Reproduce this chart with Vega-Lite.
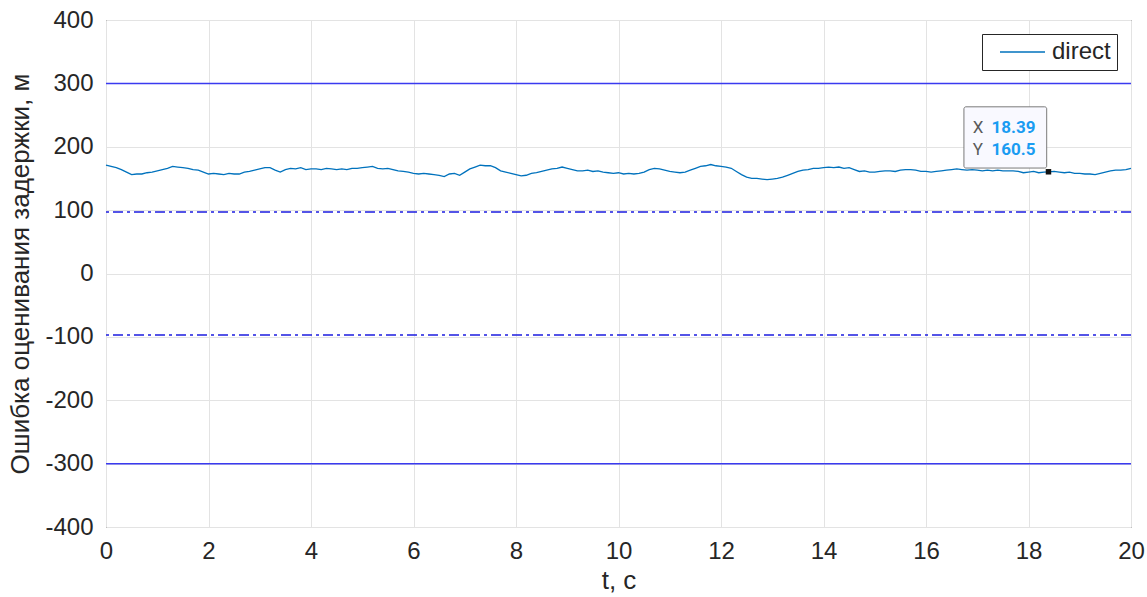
{
  "$schema": "https://vega.github.io/schema/vega-lite/v6.json",
  "width": 1025,
  "height": 507,
  "autosize": {"type": "none"},
  "padding": {"left": 106, "top": 20, "right": 16, "bottom": 70},
  "background": "white",
  "config": {
    "view": {"stroke": "#262626", "strokeWidth": 1},
    "axis": {
      "labelFont": "Liberation Sans",
      "titleFont": "Liberation Sans",
      "labelFontSize": 24,
      "titleFontSize": 26,
      "labelColor": "#262626",
      "titleColor": "#262626",
      "titleFontWeight": "normal",
      "gridColor": "#e3e3e3",
      "gridWidth": 1,
      "domain": false,
      "ticks": false,
      "labelFlush": false,
      "labelExpr": "'' + datum.value"
    }
  },
  "datasets": {
    "signal": [
      {"t":0.0,"v":171},{"t":0.1,"v":169},{"t":0.2,"v":167},{"t":0.3,"v":164},{"t":0.4,"v":160},{"t":0.5,"v":156},{"t":0.6,"v":157},{"t":0.7,"v":157},{"t":0.8,"v":159},{"t":0.9,"v":160},
      {"t":1.0,"v":162},{"t":1.1,"v":164},{"t":1.2,"v":166},{"t":1.3,"v":169},{"t":1.4,"v":168},{"t":1.5,"v":167},{"t":1.6,"v":166},{"t":1.7,"v":164},{"t":1.8,"v":163},{"t":1.9,"v":160},
      {"t":2.0,"v":157},{"t":2.1,"v":158},{"t":2.2,"v":157},{"t":2.3,"v":156},{"t":2.4,"v":158},{"t":2.5,"v":157},{"t":2.6,"v":157},{"t":2.7,"v":160},{"t":2.8,"v":161},{"t":2.9,"v":163},
      {"t":3.0,"v":165},{"t":3.1,"v":167},{"t":3.2,"v":167},{"t":3.3,"v":163},{"t":3.4,"v":160},{"t":3.5,"v":164},{"t":3.6,"v":166},{"t":3.7,"v":165},{"t":3.8,"v":167},{"t":3.9,"v":164},
      {"t":4.0,"v":165},{"t":4.1,"v":165},{"t":4.2,"v":164},{"t":4.3,"v":166},{"t":4.4,"v":165},{"t":4.5,"v":164},{"t":4.6,"v":165},{"t":4.7,"v":164},{"t":4.8,"v":166},{"t":4.9,"v":166},
      {"t":5.0,"v":167},{"t":5.1,"v":168},{"t":5.2,"v":169},{"t":5.3,"v":166},{"t":5.4,"v":165},{"t":5.5,"v":166},{"t":5.6,"v":164},{"t":5.7,"v":162},{"t":5.8,"v":161},{"t":5.9,"v":160},
      {"t":6.0,"v":158},{"t":6.1,"v":157},{"t":6.2,"v":158},{"t":6.3,"v":157},{"t":6.4,"v":156},{"t":6.5,"v":155},{"t":6.6,"v":153},{"t":6.7,"v":157},{"t":6.8,"v":158},{"t":6.9,"v":155},
      {"t":7.0,"v":160},{"t":7.1,"v":165},{"t":7.2,"v":168},{"t":7.3,"v":171},{"t":7.4,"v":170},{"t":7.5,"v":170},{"t":7.6,"v":167},{"t":7.7,"v":162},{"t":7.8,"v":160},{"t":7.9,"v":158},
      {"t":8.0,"v":156},{"t":8.1,"v":154},{"t":8.2,"v":155},{"t":8.3,"v":158},{"t":8.4,"v":159},{"t":8.5,"v":161},{"t":8.6,"v":163},{"t":8.7,"v":165},{"t":8.8,"v":166},{"t":8.9,"v":168},
      {"t":9.0,"v":166},{"t":9.1,"v":164},{"t":9.2,"v":162},{"t":9.3,"v":162},{"t":9.4,"v":163},{"t":9.5,"v":161},{"t":9.6,"v":162},{"t":9.7,"v":160},{"t":9.8,"v":159},{"t":9.9,"v":158},
      {"t":10.0,"v":159},{"t":10.1,"v":157},{"t":10.2,"v":158},{"t":10.3,"v":157},{"t":10.4,"v":158},{"t":10.5,"v":160},{"t":10.6,"v":164},{"t":10.7,"v":166},{"t":10.8,"v":165},{"t":10.9,"v":163},
      {"t":11.0,"v":161},{"t":11.1,"v":160},{"t":11.2,"v":159},{"t":11.3,"v":160},{"t":11.4,"v":163},{"t":11.5,"v":166},{"t":11.6,"v":169},{"t":11.7,"v":170},{"t":11.8,"v":172},{"t":11.9,"v":170},
      {"t":12.0,"v":169},{"t":12.1,"v":168},{"t":12.2,"v":166},{"t":12.3,"v":161},{"t":12.4,"v":156},{"t":12.5,"v":152},{"t":12.6,"v":150},{"t":12.7,"v":150},{"t":12.8,"v":149},{"t":12.9,"v":148},
      {"t":13.0,"v":149},{"t":13.1,"v":150},{"t":13.2,"v":152},{"t":13.3,"v":155},{"t":13.4,"v":158},{"t":13.5,"v":161},{"t":13.6,"v":163},{"t":13.7,"v":164},{"t":13.8,"v":166},{"t":13.9,"v":166},
      {"t":14.0,"v":167},{"t":14.1,"v":168},{"t":14.2,"v":167},{"t":14.3,"v":168},{"t":14.4,"v":166},{"t":14.5,"v":167},{"t":14.6,"v":164},{"t":14.7,"v":161},{"t":14.8,"v":162},{"t":14.9,"v":160},
      {"t":15.0,"v":160},{"t":15.1,"v":161},{"t":15.2,"v":162},{"t":15.3,"v":162},{"t":15.4,"v":161},{"t":15.5,"v":163},{"t":15.6,"v":164},{"t":15.7,"v":164},{"t":15.8,"v":163},{"t":15.9,"v":161},
      {"t":16.0,"v":161},{"t":16.1,"v":160},{"t":16.2,"v":161},{"t":16.3,"v":162},{"t":16.4,"v":163},{"t":16.5,"v":164},{"t":16.6,"v":165},{"t":16.7,"v":164},{"t":16.8,"v":163},{"t":16.9,"v":164},
      {"t":17.0,"v":163},{"t":17.1,"v":162},{"t":17.2,"v":163},{"t":17.3,"v":162},{"t":17.4,"v":163},{"t":17.5,"v":162},{"t":17.6,"v":162},{"t":17.7,"v":162},{"t":17.8,"v":161},{"t":17.9,"v":159},
      {"t":18.0,"v":160},{"t":18.1,"v":161},{"t":18.2,"v":159},{"t":18.3,"v":160},{"t":18.39,"v":160.5},{"t":18.5,"v":161},{"t":18.6,"v":160},{"t":18.7,"v":159},{"t":18.8,"v":160},{"t":18.9,"v":158},
      {"t":19.0,"v":158},{"t":19.1,"v":157},{"t":19.2,"v":157},{"t":19.3,"v":156},{"t":19.4,"v":158},{"t":19.5,"v":160},{"t":19.6,"v":162},{"t":19.7,"v":163},{"t":19.8,"v":163},{"t":19.9,"v":164},
      {"t":20.0,"v":166}
    ]
  },
  "layer": [
    {
      "data": {"values": [{"y": 300}, {"y": -300}]},
      "mark": {"type": "rule", "color": "#3a3af0", "strokeWidth": 1.5},
      "encoding": {
        "y": {
          "field": "y", "type": "quantitative",
          "scale": {"domain": [-400, 400], "nice": false},
          "axis": {
            "title": "Ошибка оценивания задержки, м",
            "values": [-400, -300, -200, -100, 0, 100, 200, 300, 400],
            "grid": true,
            "labelPadding": 13,
            "titlePadding": 11
          }
        }
      }
    },
    {
      "data": {"values": [{"y": 97}, {"y": -97}]},
      "mark": {"type": "rule", "color": "#1c1ce0", "strokeWidth": 1.6, "strokeDash": [10, 4, 3, 4]},
      "encoding": {"y": {"field": "y", "type": "quantitative"}}
    },
    {
      "data": {"name": "signal"},
      "transform": [{"calculate": "'direct'", "as": "series"}],
      "mark": {"type": "line", "strokeWidth": 1.3},
      "encoding": {
        "x": {
          "field": "t", "type": "quantitative",
          "scale": {"domain": [0, 20], "nice": false},
          "axis": {
            "title": "t, с",
            "values": [0, 2, 4, 6, 8, 10, 12, 14, 16, 18, 20],
            "grid": true,
            "labelPadding": 12,
            "titlePadding": 4
          }
        },
        "y": {"field": "v", "type": "quantitative"},
        "color": {
          "field": "series", "type": "nominal",
          "scale": {"domain": ["direct"], "range": ["#0072BD"]},
          "legend": {
            "title": null,
            "orient": "none",
            "legendX": 876,
            "legendY": 14,
            "symbolType": "M0,0H10",
            "symbolSize": 81,
            "symbolStrokeWidth": 1.3,
            "labelFont": "Liberation Sans",
            "labelFontSize": 24,
            "labelColor": "#262626",
            "strokeColor": "#262626",
            "fillColor": "white",
            "padding": 6,
            "labelOffset": 40
          }
        }
      }
    },
    {
      "data": {"values": [{"x1": 16.74, "x2": 18.355, "y1": 263, "y2": 166.4}]},
      "mark": {"type": "rect", "fill": "#f9f9ff", "stroke": "#7a7a7a", "strokeWidth": 1, "cornerRadius": 2},
      "encoding": {
        "x": {"field": "x1", "type": "quantitative"},
        "x2": {"field": "x2"},
        "y": {"field": "y1", "type": "quantitative"},
        "y2": {"field": "y2"}
      }
    },
    {
      "data": {"values": [{"t": 18.39, "v": 160.5}]},
      "mark": {"type": "point", "shape": "square", "filled": true, "color": "#111111", "size": 30, "opacity": 1},
      "encoding": {
        "x": {"field": "t", "type": "quantitative"},
        "y": {"field": "v", "type": "quantitative"}
      }
    },
    {
      "data": {"values": [{"x": 16.91, "y": 230.3, "label": "X"}, {"x": 16.91, "y": 195.3, "label": "Y"}]},
      "mark": {"type": "text", "align": "left", "baseline": "middle", "font": "Roboto", "fontSize": 17, "color": "#5a5a5a"},
      "encoding": {
        "x": {"field": "x", "type": "quantitative"},
        "y": {"field": "y", "type": "quantitative"},
        "text": {"field": "label"}
      }
    },
    {
      "data": {"values": [{"x": 17.28, "y": 230.3, "label": "18.39"}, {"x": 17.28, "y": 195.3, "label": "160.5"}]},
      "mark": {"type": "text", "align": "left", "baseline": "middle", "font": "Roboto", "fontSize": 17, "fontWeight": "bold", "color": "#1a9cf2"},
      "encoding": {
        "x": {"field": "x", "type": "quantitative"},
        "y": {"field": "y", "type": "quantitative"},
        "text": {"field": "label"}
      }
    }
  ]
}
